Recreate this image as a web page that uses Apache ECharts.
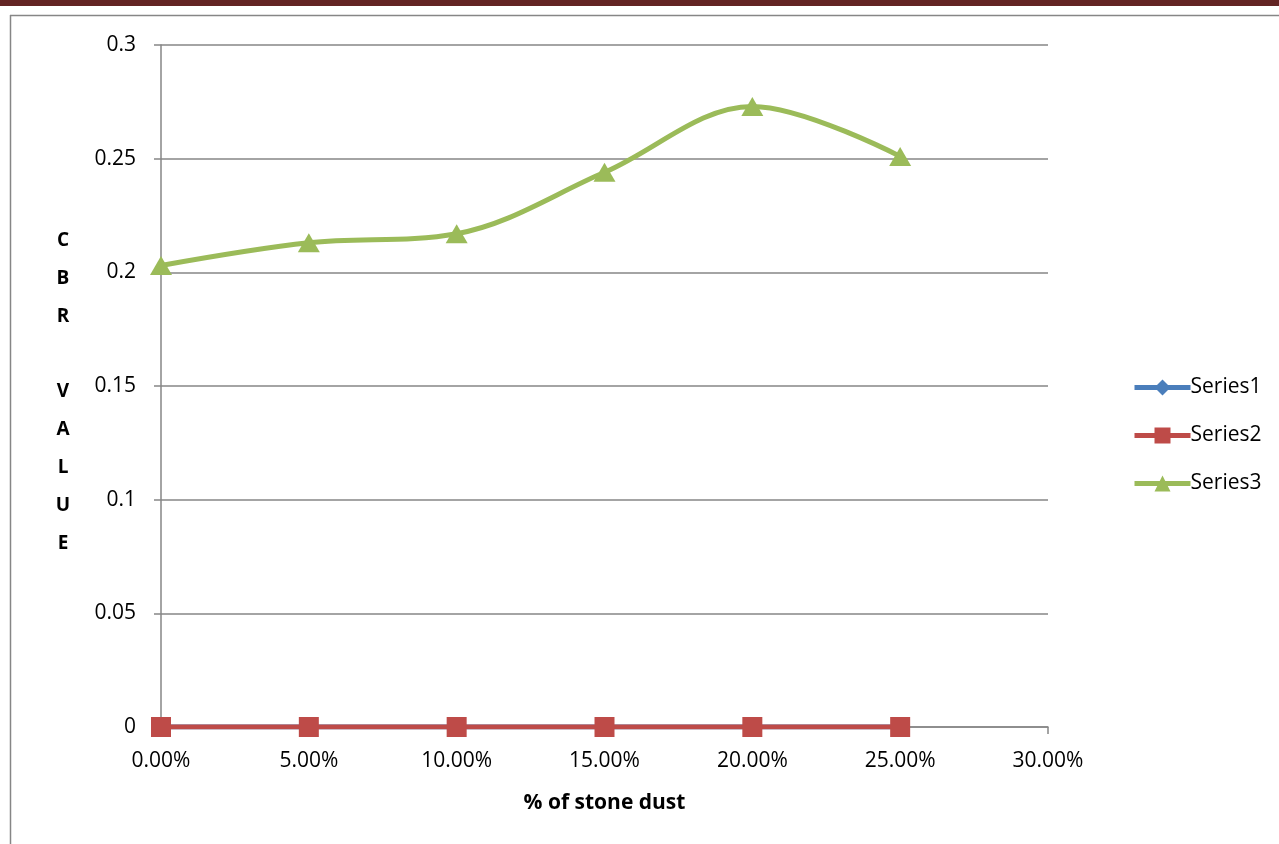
<!DOCTYPE html>
<html>
<head>
<meta charset="utf-8">
<script src="https://cdn.jsdelivr.net/npm/echarts@6/dist/echarts.min.js"></script>
<style>
  html, body { margin: 0; padding: 0; background: #ffffff; }
  #chart { width: 1279px; height: 844px; }
</style>
</head>
<body>
<div id="chart"></div>
<script>
// Stone dust content (fraction) and CBR values
const stoneDust = [0, 0.05, 0.10, 0.15, 0.20, 0.25];
const series1 = [0, 0, 0, 0, 0, 0];
const series2 = [0, 0, 0, 0, 0, 0];
const series3 = [0.203, 0.213, 0.217, 0.244, 0.273, 0.251];
const seriesNames = ['Series1', 'Series2', 'Series3'];

const FONT = '"Open Sans", "Noto Sans", sans-serif';
const AXIS_GRAY = '#868686';

function pairs(vals) {
  return stoneDust.map((x, i) => [x, vals[i]]);
}

const chart = echarts.init(document.getElementById('chart'), null, { renderer: 'canvas' });

chart.setOption({
  backgroundColor: '#ffffff',
  animation: false,
  graphic: [
    // header band
    { type: 'rect', left: 0, top: 0, shape: { width: 1279, height: 6 }, style: { fill: '#632423' }, z: 10 },
    // chart frame (top and left edges)
    { type: 'line', shape: { x1: 10, y1: 15.5, x2: 1279, y2: 15.5 }, style: { stroke: AXIS_GRAY, lineWidth: 1.5 }, z: 10 },
    { type: 'line', shape: { x1: 10.5, y1: 15, x2: 10.5, y2: 844 }, style: { stroke: AXIS_GRAY, lineWidth: 1.5 }, z: 10 },
    // vertical y-axis title
    {
      type: 'text', x: 63, y: 392,
      style: {
        text: 'C\nB\nR\n\nV\nA\nL\nU\nE',
        fontFamily: FONT, fontSize: 19, fontWeight: 'bold', fill: '#000',
        align: 'center', verticalAlign: 'middle', lineHeight: 37.8
      }
    }
  ],
  grid: { left: 161, top: 45, right: 231, bottom: 117, containLabel: false },
  legend: {
    orient: 'vertical',
    left: 1127, top: 372,
    itemGap: 27, itemWidth: 56, itemHeight: 20,
    data: seriesNames,
    lineStyle: { width: 5 },
    textStyle: { fontFamily: FONT, fontSize: 21, color: '#000', padding: [0, 0, 0, -5] }
  },
  xAxis: {
    type: 'value', min: 0, max: 0.3, interval: 0.05,
    name: '% of stone dust', nameLocation: 'middle', nameGap: 66,
    nameTextStyle: { fontFamily: FONT, fontSize: 21, fontWeight: 'bold', color: '#000' },
    axisLine: { show: true, onZero: false, lineStyle: { color: AXIS_GRAY, width: 1.5 } },
    axisTick: { show: true, inside: false, length: 7, lineStyle: { color: AXIS_GRAY, width: 1.5 } },
    axisLabel: {
      fontFamily: FONT, fontSize: 21, color: '#000', margin: 24,
      formatter: v => (v * 100).toFixed(2) + '%'
    },
    splitLine: { show: false }
  },
  yAxis: {
    type: 'value', min: 0, max: 0.3, interval: 0.05,
    axisLine: { show: true, lineStyle: { color: AXIS_GRAY, width: 1.5 } },
    axisTick: { show: true, inside: false, length: 7, lineStyle: { color: AXIS_GRAY, width: 1.5 } },
    axisLabel: {
      fontFamily: FONT, fontSize: 21, color: '#000', margin: 25,
      formatter: v => String(parseFloat(v.toFixed(2)))
    },
    splitLine: { show: true, lineStyle: { color: AXIS_GRAY, width: 1.5 } }
  },
  series: [
    {
      name: seriesNames[0], type: 'line', data: pairs(series1),
      symbol: 'diamond', symbolSize: 17,
      lineStyle: { color: '#4A7EBB', width: 5 },
      itemStyle: { color: '#4A7EBB' }, z: 2
    },
    {
      name: seriesNames[1], type: 'line', data: pairs(series2),
      symbol: 'rect', symbolSize: 20,
      lineStyle: { color: '#BE4B48', width: 5 },
      itemStyle: { color: '#BE4B48' }, z: 3
    },
    {
      name: seriesNames[2], type: 'line', data: pairs(series3),
      symbol: 'triangle', symbolSize: [22, 19], smooth: 0.35,
      lineStyle: { color: '#9BBB59', width: 5 },
      itemStyle: { color: '#9BBB59' }, z: 4
    }
  ]
});
</script>
</body>
</html>
